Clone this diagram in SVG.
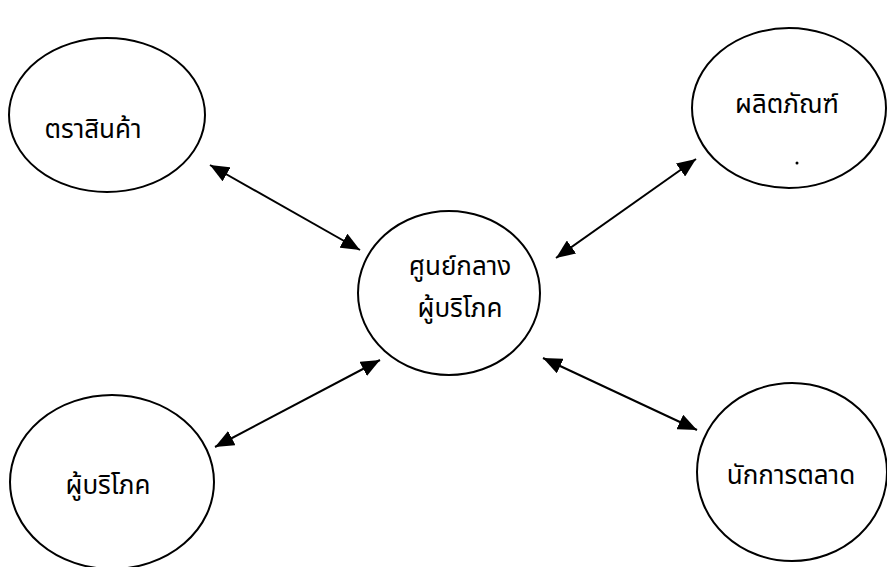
<svg xmlns="http://www.w3.org/2000/svg" width="887" height="567" viewBox="0 0 887 567">
<style>
.node ellipse{fill:#fff;stroke:#000;stroke-width:2}
.node text{font-family:"Noto Sans Thai","Noto Sans","DejaVu Sans",sans-serif;font-size:26px;fill:#000;text-anchor:middle}
.conn line{stroke:#000;stroke-width:2;marker-start:url(#ah);marker-end:url(#ah)}
</style>
<defs>
<marker id="ah" markerUnits="userSpaceOnUse" markerWidth="20" markerHeight="16" refX="19" refY="8" orient="auto-start-reverse">
<path d="M0,0 L19,8 L0,16 Z" fill="#000"/>
</marker>
</defs>
<rect width="887" height="567" fill="#fff"/>
<g id="brand" class="node">
<ellipse cx="107" cy="115" rx="98" ry="77"/>
<text x="93" y="138">ตราสินค้า</text>
</g>
<g id="product" class="node">
<ellipse cx="789" cy="108" rx="97" ry="80"/>
<text x="787" y="113">ผลิตภัณฑ์</text>
<circle cx="797" cy="163" r="1.5" fill="#000"/>
</g>
<g id="center" class="node">
<ellipse cx="449" cy="293" rx="91" ry="82"/>
<text x="460" y="275">ศูนย์กลาง</text>
<text x="460" y="317">ผู้บริโภค</text>
</g>
<g id="consumer" class="node">
<ellipse cx="112" cy="482" rx="102" ry="87"/>
<text x="108" y="494">ผู้บริโภค</text>
</g>
<g id="marketer" class="node">
<ellipse cx="792" cy="472" rx="95" ry="89"/>
<text x="791" y="484">นักการตลาด</text>
</g>
<g id="connectors" class="conn">
<line x1="210" y1="165" x2="360" y2="250"/>
<line x1="696" y1="159" x2="556" y2="258"/>
<line x1="380" y1="360" x2="215" y2="447"/>
<line x1="543" y1="358" x2="697" y2="430"/>
</g>
</svg>
